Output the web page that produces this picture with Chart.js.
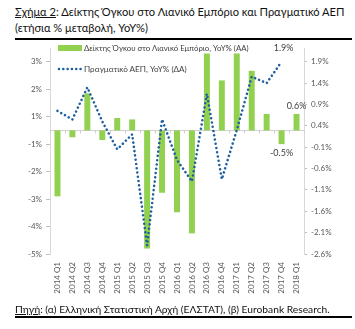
<!DOCTYPE html>
<html>
<head>
<meta charset="utf-8">
<script src="https://cdn.jsdelivr.net/npm/chart.js@4.4.1/dist/chart.umd.min.js"></script>
<style>
  html,body{margin:0;padding:0;background:#fff;}
  body{width:355px;height:329px;overflow:hidden;position:relative;font-family:Lato,"Open Sans",sans-serif;}
  #c{position:absolute;left:0;top:0;}
  .txt{position:absolute;white-space:nowrap;color:#111;}
  #t1{left:15px;top:4px;font-size:12px;line-height:15px;}
  #t2{left:15px;top:20px;font-size:12px;line-height:15px;}
  #foot{left:15px;top:302px;font-size:11px;line-height:14px;}
  .rule{position:absolute;left:15px;width:337px;height:1.5px;background:#000;}
  .leg{position:absolute;white-space:nowrap;color:#404040;font-size:8.5px;line-height:10px;}
  #sw1{position:absolute;left:58px;top:45px;width:24px;height:6px;background:#92D050;}
  #sw2{position:absolute;left:57px;top:66px;}
  u{text-decoration:underline;}
</style>
</head>
<body>
<div class="txt" id="t1"><u>Σχήμα 2</u>: Δείκτης Όγκου στο Λιανικό Εμπόριο και Πραγματικό ΑΕΠ</div>
<div class="txt" id="t2">(ετήσια % μεταβολή, YoY%)</div>
<div class="rule" style="top:38px"></div>
<canvas id="c" width="355" height="329"></canvas>
<div id="sw1"></div>
<svg id="sw2" width="27" height="6"><line x1="2" y1="3" x2="25" y2="3" stroke="#1F5F9E" stroke-width="2.6" stroke-linecap="round" stroke-dasharray="0.01 4.3"/></svg>
<div class="leg" id="l1" style="left:84px;top:43px;">Δείκτης Όγκου στο Λιανικό Εμπόριο, YoY% (ΑΑ)</div>
<div class="leg" id="l2" style="left:84px;top:64px;">Πραγματικό ΑΕΠ, YoY% (ΔΑ)</div>
<div class="txt" id="foot"><u>Πηγή</u>: (α) Ελληνική Στατιστική Αρχή (ΕΛΣΤΑΤ), (β) Eurobank Research.</div>
<div class="rule" style="top:316px"></div>

<script>
// ---- data ----
const categories = ['2014 Q1','2014 Q2','2014 Q3','2014 Q4','2015 Q1','2015 Q2','2015 Q3','2015 Q4',
                    '2016 Q1','2016 Q2','2016 Q3','2016 Q4','2017 Q1','2017 Q2','2017 Q3','2017 Q4','2018 Q1'];
const retailValues = [-2.4, -0.25, 1.35, -0.35, 0.45, 0.4, -4.3, -2.27, -2.98, -3.75, 2.8, 1.82, 2.8, 2.17, 0.6, -0.5, 0.6];
const gdpValues = [0.75, 0.55, 1.3, 0.5, -0.15, 0.2, -2.4, 0.55, -0.4, -0.9, 1.15, -0.85, 0.3, 1.55, 1.4, 1.9, null];
const leftTicks = [2.5, 1.5, 0.5, -0.5, -1.5, -2.5, -3.5, -4.5];
const leftTickLabels = ['3%','2%','1%','-1%','-2%','-3%','-4%','-5%'];
const rightTicks = [1.9, 1.4, 0.9, 0.4, -0.1, -0.6, -1.1, -1.6, -2.1, -2.6];
const retailLabelIdx = [15, 16];
const gdpLabelIdx = [15];

// ---- text fitting ----
function fit(id, w){
  const el=document.getElementById(id);
  const r=el.getBoundingClientRect().width;
  const fs=parseFloat(getComputedStyle(el).fontSize);
  el.style.fontSize=(fs*w/r)+'px';
  return el.style.fontSize;
}
document.getElementById('t2').style.fontSize = fit('t1',330);
fit('foot',315); fit('l1',165); fit('l2',103);

const tickFont = {family:'Lato', size:8};
const tickColor = '#595959';

const zeroLine = {
  id:'zeroLine',
  beforeDatasetsDraw(chart){
    const {ctx, chartArea:a, scales} = chart;
    const y0 = Math.round(scales.y.getPixelForValue(0))+0.5;
    ctx.save();
    ctx.strokeStyle='#d0d0d0'; ctx.lineWidth=1;
    ctx.beginPath(); ctx.moveTo(a.left,y0); ctx.lineTo(a.right,y0);
    const n = categories.length;
    for(let k=0;k<=n;k++){
      const x = Math.round(a.left + k*(a.right-a.left)/n)+0.5;
      ctx.moveTo(x,y0); ctx.lineTo(x,y0+3);
    }
    ctx.stroke();
    ctx.restore();
  }
};

const valueLabels = {
  id:'valueLabels',
  afterDatasetsDraw(chart){
    const ctx=chart.ctx;
    ctx.save();
    ctx.font='9px Lato'; ctx.fillStyle='#404040'; ctx.textAlign='center'; ctx.textBaseline='middle';
    const bars=chart.getDatasetMeta(0).data;
    retailLabelIdx.forEach(i=>{
      const el=bars[i], v=retailValues[i];
      ctx.fillText(v.toFixed(1)+'%', el.x, v>=0 ? el.y-8 : el.y+9);
    });
    const pts=chart.getDatasetMeta(1).data;
    gdpLabelIdx.forEach(i=>{
      const el=pts[i];
      ctx.fillText(gdpValues[i].toFixed(1)+'%', el.x+2, el.y-14);
    });
    ctx.restore();
  }
};

new Chart(document.getElementById('c'), {
  data:{
    labels:categories,
    datasets:[
      {type:'bar', label:'Δείκτης Όγκου στο Λιανικό Εμπόριο, YoY% (ΑΑ)', data:retailValues,
       backgroundColor:'#92D050', borderWidth:0, yAxisID:'y', order:2,
       categoryPercentage:1, barPercentage:0.4},
      {type:'line', label:'Πραγματικό ΑΕΠ, YoY% (ΔΑ)', data:gdpValues, yAxisID:'y1', order:1,
       borderColor:'#1F5F9E', borderWidth:2.6, borderDash:[0.01,4.3], borderCapStyle:'round',
       pointRadius:0, tension:0, fill:false}
    ]
  },
  options:{
    responsive:false, animation:false, devicePixelRatio:1,
    layout:{padding:{top:48,left:0,right:0,bottom:0}},
    plugins:{legend:{display:false}, tooltip:{enabled:false}},
    scales:{
      x:{
        grid:{display:false, drawTicks:false}, border:{display:false},
        ticks:{minRotation:90, maxRotation:90, padding:8, color:tickColor, font:tickFont, autoSkip:false},
        afterFit(s){ s.height=75; }
      },
      y:{
        position:'left', min:-4.5, max:3.0,
        afterBuildTicks(s){ s.ticks = leftTicks.map(v=>({value:v})); },
        ticks:{color:tickColor, font:tickFont, padding:4,
               callback:(v,i)=>leftTickLabels[i]},
        grid:{drawOnChartArea:false, drawTicks:true, tickLength:4, color:'#bfbfbf'},
        border:{display:true, color:'#d9d9d9'},
        afterFit(s){ s.width=50; }
      },
      y1:{
        position:'right', min:-2.6, max:2.2214,
        afterBuildTicks(s){ s.ticks = rightTicks.map(v=>({value:v})); },
        ticks:{color:tickColor, font:tickFont, padding:4,
               callback:(v)=>v.toFixed(1)+'%'},
        grid:{drawOnChartArea:false, drawTicks:true, tickLength:3, color:'#bfbfbf'},
        border:{display:true, color:'#d9d9d9'},
        afterFit(s){ s.width=51; }
      }
    }
  },
  plugins:[zeroLine, valueLabels]
});
</script>
</body>
</html>
